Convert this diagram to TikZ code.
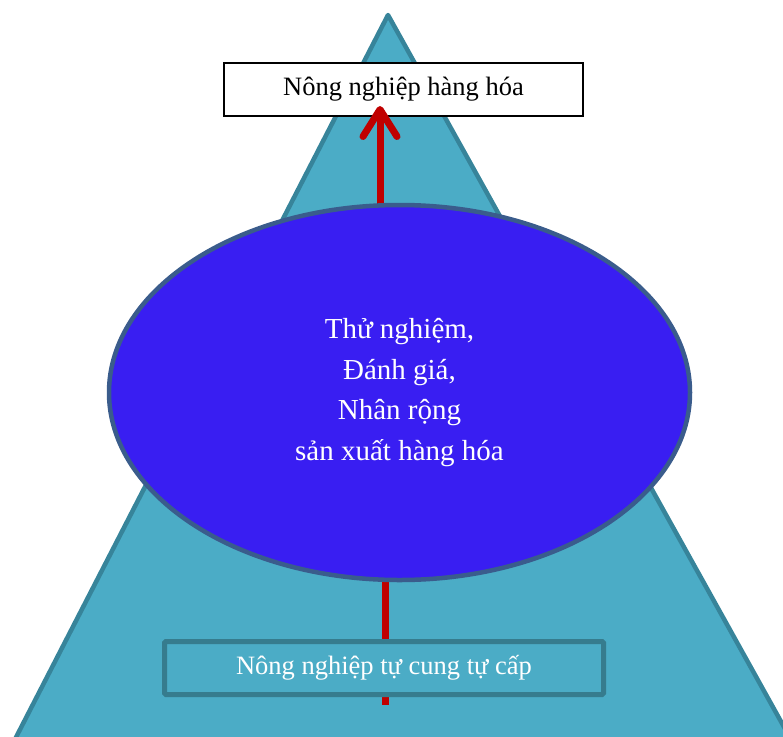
\documentclass[tikz,border=0pt]{standalone}
\usepackage{fontspec}
\setmainfont{Liberation Serif}
\usetikzlibrary{shapes.geometric,arrows.meta}
\definecolor{trifill}{HTML}{4BACC6}
\definecolor{tristroke}{HTML}{37849A}
\definecolor{boxstroke}{HTML}{367C8E}
\definecolor{ellfill}{HTML}{391EF2}
\definecolor{ellstroke}{HTML}{3A5C8C}
\definecolor{arrowred}{HTML}{C00000}
\tikzset{
  topbox/.style={draw=black, line width=2pt, fill=white, minimum width=359pt, minimum height=53pt, inner sep=0pt, font=\fontsize{26.5}{30}\selectfont},
  basebox/.style={draw=boxstroke, line width=5pt, fill=trifill, rounded corners=1.5pt, minimum width=439pt, minimum height=53pt, inner sep=0pt, text=white, font=\fontsize{26.5}{30}\selectfont},
  centreell/.style={ellipse, draw=ellstroke, line width=4.5pt, fill=ellfill, minimum width=581pt, minimum height=375pt, inner sep=0pt, text=white, align=center, font=\fontsize{29}{40.5}\selectfont},
  redline/.style={draw=arrowred, line width=7pt},
  pyramid/.style={draw=tristroke, line width=4.5pt, fill=trifill, line join=round}
}
\begin{document}
\begin{tikzpicture}[x=1pt,y=-1pt]
\useasboundingbox (0,0) rectangle (783,736);
\clip (0,0) rectangle (783,736);
% pyramid
\draw[pyramid] (388,15) -- (813.5,780) -- (-6,780) -- cycle;
% top box
\node[topbox] (top) at (403.5,89.5) {Nông nghiệp hàng hóa};
% coordinates for connector ends
\coordinate (toptip) at (380,106);
\coordinate (botend) at (385,705);
% ellipse placeholder for anchors
\path node[centreell, draw=none, fill=none] (ellph) at (399.5,392.5) {\phantom{x}};
% top arrow
\draw[redline, -{Straight Barb[length=27pt, width=34pt, round]}] (toptip |- ellph.center) -- (toptip);
% bottom line
\draw[redline] (botend |- ellph.center) -- (botend);
% ellipse
\node[centreell] (ell) at (399.5,392.5) {Thử nghiệm,\\Đánh giá,\\Nhân rộng\\sản xuất hàng hóa};
% bottom box
\node[basebox] (base) at (384,668) {Nông nghiệp tự cung tự cấp};
\end{tikzpicture}
\end{document}
